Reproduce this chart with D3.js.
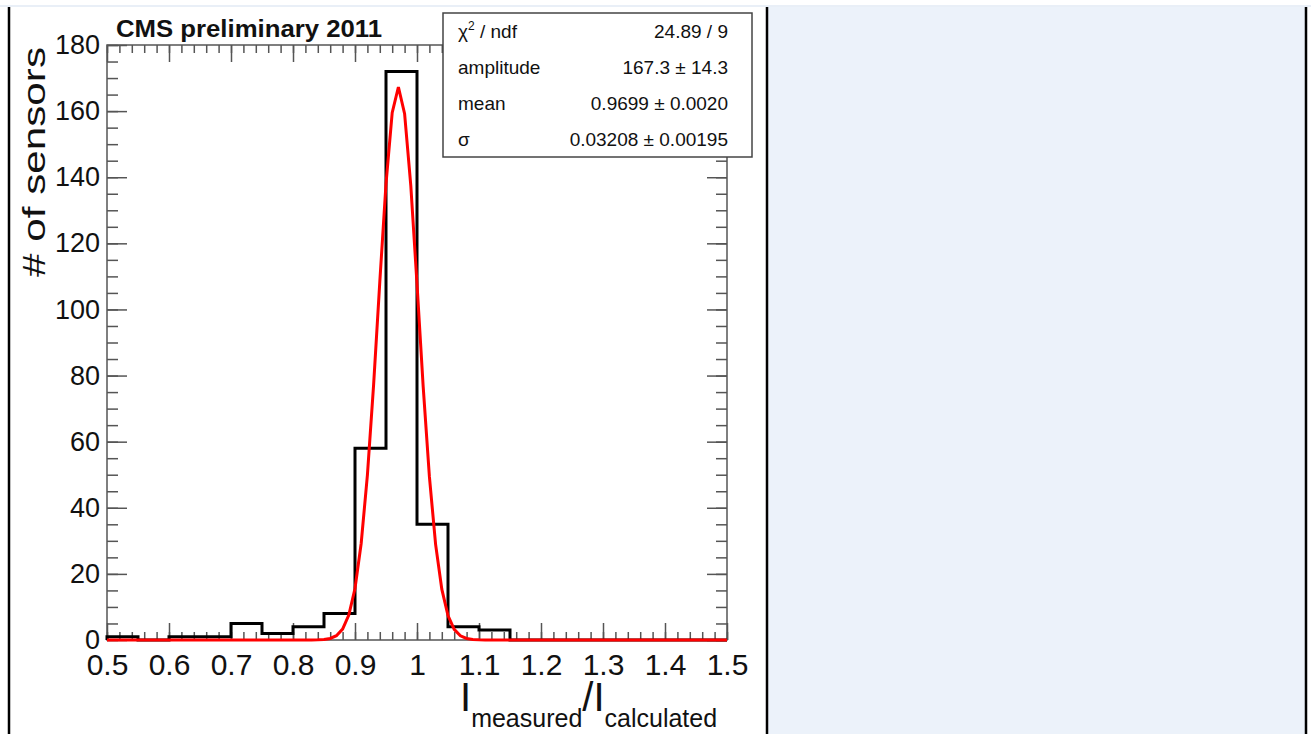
<!DOCTYPE html>
<html>
<head>
<meta charset="utf-8">
<script src="https://cdn.jsdelivr.net/npm/d3@7"></script>
<style>
  body { margin: 0; background: #fff; }
  svg { display: block; }
</style>
</head>
<body>
<svg id="svg" width="1311" height="734"></svg>
<script>
    var font = "'Liberation Sans', Arial, Helvetica, sans-serif";

    // histogram bins (low edge) and contents
    var binLow = [0.50, 0.55, 0.60, 0.65, 0.70, 0.75, 0.80, 0.85, 0.90, 0.95,
                  1.00, 1.05, 1.10, 1.15, 1.20, 1.25, 1.30, 1.35, 1.40, 1.45];
    var counts = [1, 0, 1, 1, 5, 2, 4, 8, 58, 172, 35, 4, 3, 0, 0, 0, 0, 0, 0, 0];
    var binWidth = 0.05;

    var xTicks = [0.5, 0.6, 0.7, 0.8, 0.9, 1.0, 1.1, 1.2, 1.3, 1.4, 1.5];
    var xTickLabels = ["0.5", "0.6", "0.7", "0.8", "0.9", "1", "1.1", "1.2", "1.3", "1.4", "1.5"];
    var yTicks = [0, 20, 40, 60, 80, 100, 120, 140, 160, 180];

    // gaussian fit (amplitude, mean, sigma) and stat box
    var fitParams = [167.3, 0.9699, 0.03208];
    var statLabels = ["χ", "amplitude", "mean", "σ"];
    var statValues = ["24.89 / 9", "167.3 ± 14.3", "0.9699 ± 0.0020", "0.03208 ± 0.00195"];

    function draw() {
        var svg = d3.select("#svg");

        // page table cells
        svg.append("rect").attr("x", 0).attr("y", 5).attr("width", 1311).attr("height", 2).attr("fill", "#e9eff7");
        svg.append("rect").attr("x", 768).attr("y", 7).attr("width", 537).attr("height", 727).attr("fill", "#ecf2fa");
        [9, 767, 1306].forEach(function (x) {
            svg.append("line").attr("x1", x).attr("x2", x).attr("y1", 7).attr("y2", 734)
                .attr("stroke", "#000").attr("stroke-width", 2.5);
        });

        var pl = 107, pr = 727, pt = 45, pb = 640;
        var x = d3.scaleLinear().domain([0.5, 1.5]).range([pl, pr]);
        var y = d3.scaleLinear().domain([0, 180]).range([pb, pt]);

        var g = svg.append("g");
        var tickColor = "#555";

        function styleAxis(sel) {
            sel.select(".domain").remove();
            sel.selectAll(".tick line").attr("stroke", tickColor).attr("stroke-width", 1.5);
        }

        var xMinor = d3.range(0.5, 1.5001, 0.02);
        var yMinor = d3.range(0, 180.001, 5);

        // bottom axis
        g.append("g").attr("transform", "translate(0," + pb + ")")
            .call(d3.axisBottom(x).tickValues(xMinor).tickSize(-8).tickFormat(""))
            .call(styleAxis);
        var xb = g.append("g").attr("transform", "translate(0," + pb + ")")
            .call(d3.axisBottom(x).tickValues(xTicks).tickSize(-17)
                .tickFormat(function (d, i) { return xTickLabels[i]; }))
            .call(styleAxis);
        xb.selectAll("text").attr("y", 35).attr("dy", 0)
            .attr("font-family", font).attr("font-size", "30px").attr("fill", "#111");

        // top axis
        g.append("g").attr("transform", "translate(0," + pt + ")")
            .call(d3.axisTop(x).tickValues(xMinor).tickSize(-8).tickFormat(""))
            .call(styleAxis);
        g.append("g").attr("transform", "translate(0," + pt + ")")
            .call(d3.axisTop(x).tickValues(xTicks).tickSize(-17).tickFormat(""))
            .call(styleAxis);

        // left axis
        g.append("g").attr("transform", "translate(" + pl + ",0)")
            .call(d3.axisLeft(y).tickValues(yMinor).tickSize(-11).tickFormat(""))
            .call(styleAxis);
        var yl = g.append("g").attr("transform", "translate(" + pl + ",0)")
            .call(d3.axisLeft(y).tickValues(yTicks).tickSize(-20).tickPadding(7))
            .call(styleAxis);
        yl.selectAll("text").attr("font-family", font).attr("font-size", "27px").attr("fill", "#111");

        // right axis
        g.append("g").attr("transform", "translate(" + pr + ",0)")
            .call(d3.axisRight(y).tickValues(yMinor).tickSize(-11).tickFormat(""))
            .call(styleAxis);
        g.append("g").attr("transform", "translate(" + pr + ",0)")
            .call(d3.axisRight(y).tickValues(yTicks).tickSize(-20).tickFormat(""))
            .call(styleAxis);

        // frame
        g.append("rect").attr("x", pl).attr("y", pt).attr("width", pr - pl).attr("height", pb - pt)
            .attr("fill", "none").attr("stroke", tickColor).attr("stroke-width", 1.5);

        // histogram outline
        var pts = [[binLow[0], 0]];
        binLow.forEach(function (b, i) {
            pts.push([b, counts[i]]);
            pts.push([b + binWidth, counts[i]]);
        });
        pts.push([binLow[binLow.length - 1] + binWidth, 0]);
        var line = d3.line().x(function (d) { return x(d[0]); }).y(function (d) { return y(d[1]); });
        g.append("path").attr("d", line(pts)).attr("fill", "none")
            .attr("stroke", "#000").attr("stroke-width", 3);

        // fit curve
        var fx = d3.range(0, 101).map(function (i) { return 0.5 + i * 0.01; });
        var fitPts = fx.map(function (v) {
            var t = (v - fitParams[1]) / fitParams[2];
            return [v, fitParams[0] * Math.exp(-0.5 * t * t)];
        });
        g.append("path").attr("d", line(fitPts)).attr("fill", "none")
            .attr("stroke", "#ff0000").attr("stroke-width", 3);

        // title
        svg.append("text").attr("x", 116).attr("y", 37).text("CMS preliminary 2011")
            .attr("font-family", font).attr("font-size", "24px").attr("font-weight", "bold")
            .attr("textLength", 266).attr("lengthAdjust", "spacingAndGlyphs").attr("fill", "#111");

        // y title
        svg.append("text").attr("transform", "translate(45,277) rotate(-90)")
            .text("# of sensors").attr("font-family", font).attr("font-size", "32px")
            .attr("textLength", 230).attr("lengthAdjust", "spacingAndGlyphs").attr("fill", "#111");

        // x title
        var xt = svg.append("text").attr("x", 460).attr("y", 711)
            .attr("font-family", font).attr("fill", "#111");
        xt.append("tspan").attr("font-size", "40px").text("I");
        xt.append("tspan").attr("font-size", "25px").attr("dy", 16).text("measured");
        xt.append("tspan").attr("font-size", "40px").attr("dy", -16).text("/");
        xt.append("tspan").attr("font-size", "40px").text("I");
        xt.append("tspan").attr("font-size", "25px").attr("dy", 16).text("calculated");

        // stat box
        var bx = 443, by = 13, bw = 309, bh = 144;
        svg.append("rect").attr("x", bx).attr("y", by).attr("width", bw).attr("height", bh)
            .attr("fill", "#fff").attr("stroke", "#444").attr("stroke-width", 1.5);
        var rowH = bh / statLabels.length;
        statLabels.forEach(function (lab, i) {
            var base = by + rowH * (i + 0.5) + 7;
            var t = svg.append("text").attr("x", bx + 15).attr("y", base)
                .attr("font-family", font).attr("font-size", "19px").attr("fill", "#111");
            if (i == 0) {
                t.append("tspan").text(lab);
                t.append("tspan").attr("font-size", "12px").attr("dy", -8).text("2");
                t.append("tspan").attr("dy", 8).text(" / ndf");
            } else {
                t.text(lab);
            }
            svg.append("text").attr("x", bx + bw - 24).attr("y", base).attr("text-anchor", "end")
                .text(statValues[i]).attr("font-family", font).attr("font-size", "19px").attr("fill", "#111");
        });
    }

    window.addEventListener('DOMContentLoaded', draw);
</script>
</body>
</html>
